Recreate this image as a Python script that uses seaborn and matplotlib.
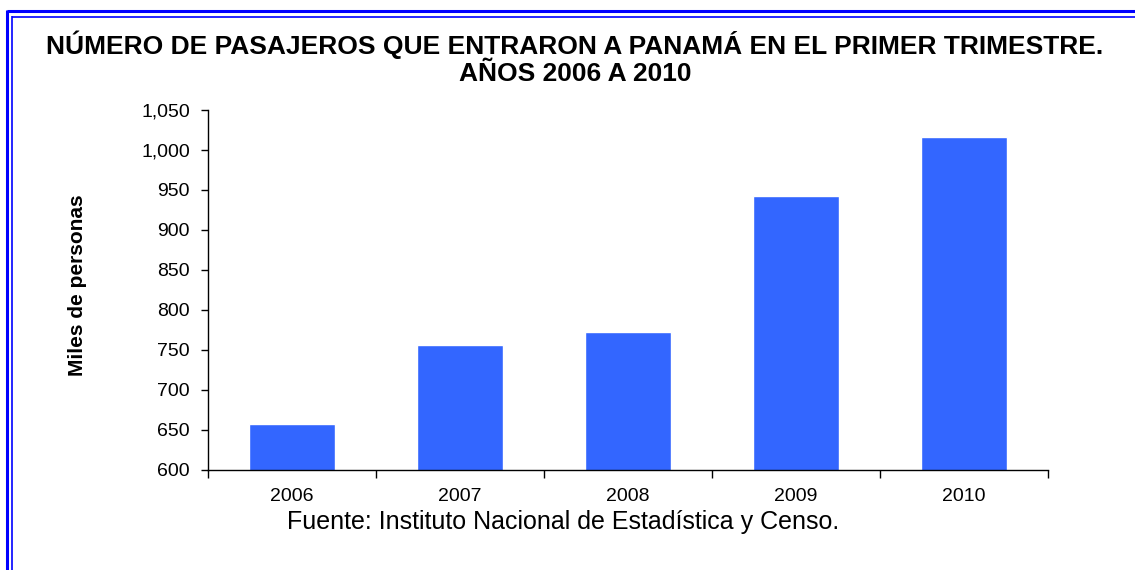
import numpy as np
import pandas as pd
import matplotlib
matplotlib.use("Agg")
import matplotlib.pyplot as plt
import seaborn as sns
from matplotlib.lines import Line2D
from matplotlib.ticker import FixedLocator, FuncFormatter

# data (miles de personas)
years = ["2006", "2007", "2008", "2009", "2010"]
passengers = [658, 756, 773, 943, 1016]
y_ticks = [600, 650, 700, 750, 800, 850, 900, 950, 1000, 1050]

df = pd.DataFrame({"Año": years, "Pasajeros": passengers})

sns.set_style("white")
plt.rcParams["font.family"] = ["Liberation Sans", "DejaVu Sans"]
plt.rcParams["text.color"] = "black"
plt.rcParams["axes.labelcolor"] = "black"
plt.rcParams["xtick.color"] = "black"
plt.rcParams["ytick.color"] = "black"

W, H = 1135, 570
fig = plt.figure(figsize=(W / 100, H / 100), dpi=100)
ax = fig.add_axes([208 / W, 1 - 470 / H, 840 / W, 360 / H])

sns.barplot(data=df, x="Año", y="Pasajeros", color="#3366FF",
            width=0.51, saturation=1, ax=ax)

ax.set_xlim(-0.5, 4.5)
ax.set_ylim(600, 1050)
ax.set_yticks(y_ticks)
ax.yaxis.set_major_formatter(FuncFormatter(lambda v, p: f"{int(v):,}"))
ax.tick_params(axis="y", left=True, direction="out", length=5, width=1,
               colors="black", labelsize=14, pad=8)
ax.tick_params(axis="x", which="major", bottom=True, length=0,
               labelsize=14, pad=13, colors="black")
ax.xaxis.set_minor_locator(FixedLocator(np.arange(-0.5, 5, 1)))
ax.tick_params(axis="x", which="minor", bottom=True, direction="out",
               length=6, width=1, color="black")

for s in ["top", "right"]:
    ax.spines[s].set_visible(False)
for s in ["left", "bottom"]:
    ax.spines[s].set_color("black")
    ax.spines[s].set_linewidth(1)

ax.set_xlabel("")
ax.set_ylabel("Miles de personas", fontsize=15, fontweight="bold")
ax.yaxis.set_label_coords(-121 / 840, 0.514)

fig.text(575 / W, 1 - 45 / H,
         "NÚMERO DE PASAJEROS QUE ENTRARON A PANAMÁ EN EL PRIMER TRIMESTRE.",
         ha="center", va="center", fontsize=19, fontweight="bold")
fig.text(575 / W, 1 - 74 / H, "AÑOS 2006 A 2010",
         ha="center", va="center", fontsize=19, fontweight="bold")
fig.text(563 / W, 1 - 522 / H,
         "Fuente: Instituto Nacional de Estadística y Censo.",
         ha="center", va="center", fontsize=18)

# double blue frame (right and bottom run off the picture)
def px_line(x0, y0, x1, y1, lw):
    fig.add_artist(Line2D([x0 / W, x1 / W], [1 - y0 / H, 1 - y1 / H],
                          transform=fig.transFigure, color="#0000FF",
                          linewidth=lw, solid_capstyle="butt"))

px_line(6.5, 11, W + 5, 11, 2.2)
px_line(6.5, 10, 6.5, H + 5, 2.2)
px_line(12, 16.5, W + 5, 16.5, 1.2)
px_line(12, 16, 12, H + 5, 1.2)

fig.savefig("out.png", dpi=100)
